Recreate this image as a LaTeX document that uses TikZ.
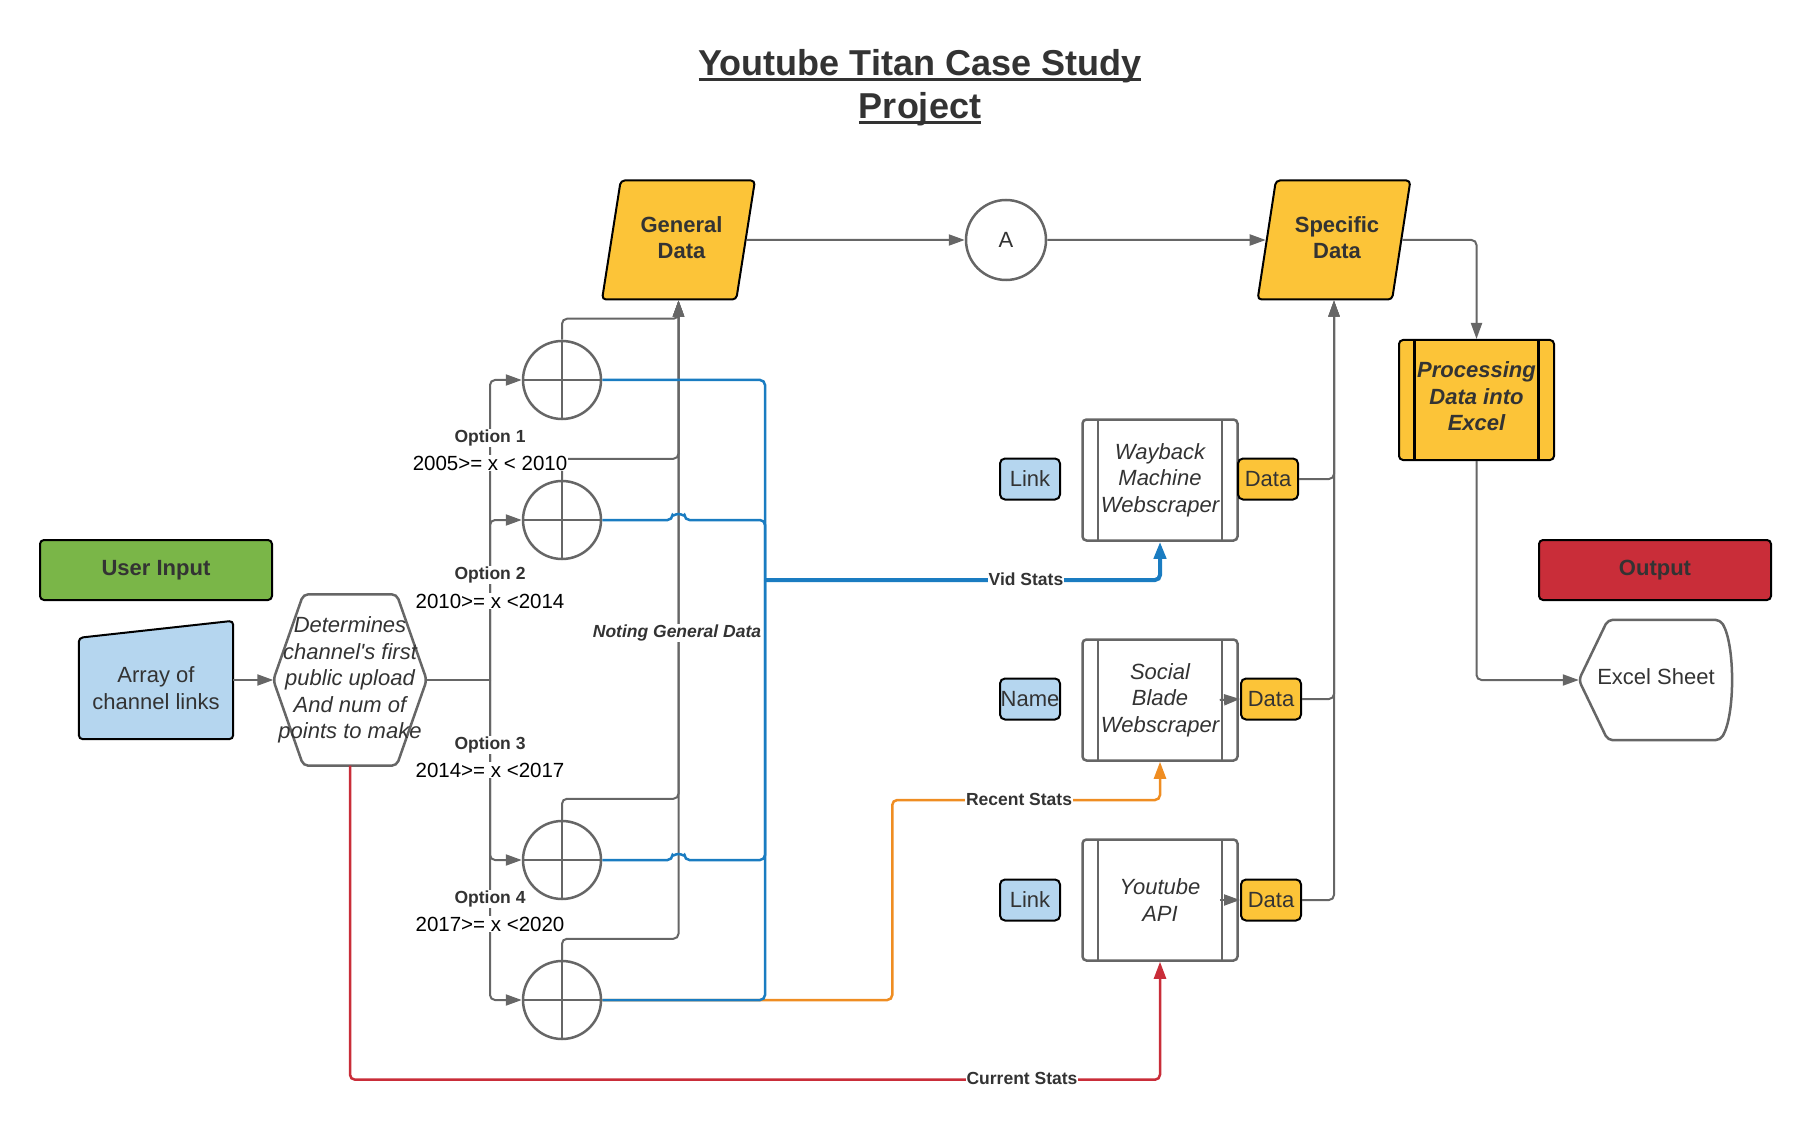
\documentclass[tikz,border=0pt]{standalone}
\usepackage{fontspec}
\setmainfont{Liberation Sans}
\usetikzlibrary{shapes.geometric,arrows.meta,positioning,calc}
\pgfdeclarelayer{background}
\pgfsetlayers{background,main}

\definecolor{linegray}{HTML}{666666}
\definecolor{darktext}{HTML}{333333}
\definecolor{inputgreen}{HTML}{7AB648}
\definecolor{outputred}{HTML}{C92D39}
\definecolor{linkblue}{HTML}{B5D6EF}
\definecolor{datayellow}{HTML}{FCC438}
\definecolor{statsblue}{HTML}{1A7CC1}
\definecolor{statsorange}{HTML}{EF8D22}

\newcommand{\ttlul}[1]{\setbox0=\hbox{#1}\rlap{\rule[-5pt]{\wd0}{3pt}}\box0}
\newcommand{\stacktext}[2]{\raisebox{#1}[0pt][0pt]{\begin{tabular}{@{}c@{}}#2\end{tabular}}}
\newcommand{\paratext}[1]{\hspace*{6pt}\raisebox{5pt}{\begin{tabular}{@{}c@{}}#1\end{tabular}}}

\begin{document}
\begin{tikzpicture}[x=1pt, y=-1pt,
    keybox/.style={rectangle, rounded corners=4pt, draw=black, line width=2pt, minimum width=232pt, minimum height=60pt, text=darktext, font=\bfseries\fontsize{22}{26.5}\selectfont},
    tagbox/.style={rectangle, rounded corners=5pt, draw=black, line width=2pt, minimum width=60pt, minimum height=41pt, inner sep=0pt, text=darktext, font=\fontsize{22}{26.5}\selectfont},
    procbox/.style={rectangle, rounded corners=4pt, draw=#1, line width=2.5pt, fill=white, minimum width=155pt, minimum height=121pt, inner sep=0pt, align=center, text=darktext, font=\itshape\fontsize{22}{26.5}\selectfont,
        path picture={
            \draw[#1, line width=2.5pt] ([xshift=15.5pt]path picture bounding box.north west) -- ([xshift=15.5pt]path picture bounding box.south west)
                ([xshift=-15.5pt]path picture bounding box.north east) -- ([xshift=-15.5pt]path picture bounding box.south east);
        }},
    procbox/.default=linegray,
    sumcircle/.style={circle, draw=linegray, line width=2.5pt, minimum size=78pt, inner sep=0pt,
        path picture={
            \draw[linegray, line width=2.5pt] (path picture bounding box.north) -- (path picture bounding box.south)
                (path picture bounding box.west) -- (path picture bounding box.east);
        }},
    datapara/.style={trapezium, trapezium left angle=75, trapezium right angle=105, trapezium stretches=true, rounded corners=4pt, draw=black, line width=2pt, fill=datayellow, minimum width=153pt, minimum height=119pt, inner sep=0pt, align=center, text=darktext, font=\bfseries\fontsize{22}{26.5}\selectfont},
    freeshape/.style={rectangle, inner sep=0pt, align=center, text=darktext, font=\fontsize{22}{26.5}\selectfont},
    shapeline/.style={line width=2.5pt, draw=linegray, fill=white, rounded corners=5pt},
    optname/.style={fill=white, inner sep=1pt, text=darktext, font=\bfseries\fontsize{17.5}{21}\selectfont},
    optval/.style={fill=white, inner sep=1pt, text=black, font=\fontsize{20.5}{24}\selectfont},
    linelbl/.style={fill=white, inner sep=1pt, text=darktext, font=\bfseries\fontsize{17.5}{21}\selectfont},
    wire/.style={draw=linegray, line width=2pt, rounded corners=5pt},
    arrow/.style={wire, -{Triangle[length=16pt,width=11pt]}},
    blueline/.style={draw=statsblue, line width=2.5pt, rounded corners=5pt},
    colarrow/.style={draw=#1, line width=2.5pt, rounded corners=5pt, -{Triangle[length=17pt,width=12pt]}}
]
    \useasboundingbox (0,0) rectangle (1812,1131);

    % Title
    \node[align=center, text=darktext, font=\bfseries\fontsize{36}{43}\selectfont] (ttl) at (920,88)
        {\ttlul{Youtube Titan Case Study}\\\ttlul{Project}};

    % Key boxes
    \node[keybox, fill=inputgreen] (uin) at (156,570) {User Input};
    \node[keybox, fill=outputred] (outp) at (1655,570) {Output};

    % Input and decision
    \node[freeshape, minimum width=154pt, minimum height=118pt] (arr) at (156,680) {\stacktext{-15.8pt}{Array of\\channel links}};
    \node[freeshape, minimum width=153pt, minimum height=171pt, font=\itshape\fontsize{22}{26.5}\selectfont] (det) at (350,680)
        {Determines\\channel\textquotesingle s first\\public upload\\And num of\\points to make};
    \begin{pgfonlayer}{background}
        \draw[line width=2pt, draw=black, fill=linkblue, rounded corners=4pt] (arr.south west) -- ([yshift=-17pt]arr.north west)
            -- (arr.north east) -- (arr.south east) -- cycle;
        \draw[shapeline] (det.west) -- ([xshift=30pt]det.north west) -- ([xshift=-30pt]det.north east) -- (det.east)
            -- ([xshift=-30pt]det.south east) -- ([xshift=30pt]det.south west) -- cycle;
    \end{pgfonlayer}
    \draw[arrow] (arr.east) -- (det.west);

    % Options
    \node[sumcircle] (c1) at (562,380) {};
    \node[sumcircle] (c2) at (562,520) {};
    \node[sumcircle] (c3) at (562,860) {};
    \node[sumcircle] (c4) at (562,1000) {};
    \coordinate (bus) at (490,680);
    \draw[wire] (det.east) -- (bus);
    \foreach \c in {c1,c2,c3,c4}
        \draw[arrow] (bus) |- (\c.west);

    % General data, A and specific data
    \node[datapara] (gd) at (678.5,240) {\paratext{General\\Data}};
    \node[circle, draw=linegray, line width=2.5pt, minimum size=80pt, inner sep=0pt, text=darktext, font=\fontsize{22}{26.5}\selectfont] (ca) at (1006,240) {A};
    \node[datapara] (sp) at (1334,240) {\paratext{Specific\\Data}};
    \draw[arrow] (gd.east) -- (ca.west);
    \draw[arrow] (ca.east) -- (sp.west);
    \foreach \c in {c1,c2,c3,c4}
        \draw[arrow] (\c.north) -- ++(0,-21) -| (gd.south);

    % Scrapers
    \node[procbox] (wb) at (1160,480) {Wayback\\Machine\\Webscraper};
    \node[procbox] (sb) at (1160,700) {Social\\Blade\\Webscraper};
    \node[procbox] (yt) at (1160,900) {Youtube\\API};
    \node[tagbox, fill=linkblue] (lk1) at (1030,479) {Link};
    \node[tagbox, fill=linkblue] (nm) at (1030,699) {Name};
    \node[tagbox, fill=linkblue] (lk2) at (1030,900) {Link};
    \node[tagbox, fill=datayellow] (d1) at (1268,479) {Data};
    \node[tagbox, fill=datayellow] (d2) at (1271,699) {Data};
    \node[tagbox, fill=datayellow] (d3) at (1271,900) {Data};
    \draw[arrow] ([xshift=-19pt]sb.east) -- (d2.west);
    \draw[arrow] ([xshift=-19pt]yt.east) -- (d3.west);
    \foreach \d in {d1,d2,d3}
        \draw[arrow] (\d.east) -| (sp.south);

    % Stats lines
    \draw[colarrow=outputred] (det.south) -- ++(0,314) -| (yt.south);
    \draw[colarrow=statsorange] (c4.east) -- ++(290,0) -- ++(0,-200) -| (sb.south);
    \coordinate (bj) at (765,580);
    \draw[blueline] (c1.east) -| (bj);
    \draw[blueline] (c2.east) -- ($(c2.east -| gd.south)+(-6,0)$) arc[start angle=180, end angle=0, radius=6pt] -| (bj);
    \draw[blueline] (c3.east) -- ($(c3.east -| gd.south)+(-6,0)$) arc[start angle=180, end angle=0, radius=6pt] -| (bj);
    \draw[blueline] (c4.east) -| (bj);
    \draw[colarrow=statsblue, line width=4pt] (bj) -| (wb.south);

    % Output
    \node[procbox=black, line width=2pt, fill=datayellow, font=\bfseries\itshape\fontsize{22}{26.5}\selectfont, minimum height=120pt] (pr) at (1476.5,400) {\stacktext{-4.2pt}{Processing\\Data into\\Excel}};
    \node[freeshape, minimum width=154pt, minimum height=120pt] (xl) at (1656,680) {\raisebox{-4pt}[0pt][0pt]{Excel Sheet}};
    \begin{pgfonlayer}{background}
        \draw[shapeline] (xl.west) -- ([xshift=29pt]xl.north west) -- ([xshift=-13pt]xl.north east)
            .. controls ([xshift=2pt,yshift=-25pt]xl.north east) and ([xshift=2pt,yshift=25pt]xl.south east) .. ([xshift=-13pt]xl.south east)
            -- ([xshift=29pt]xl.south west) -- cycle;
    \end{pgfonlayer}
    \draw[arrow] (sp.east) -| (pr.north);
    \draw[arrow] (pr.south) |- (xl.west);

    % Labels on lines
    \node[optname] (o1) at (490,438) {Option 1};
    \node[optval] (v1) at (490,463) {2005>= x < 2010};
    \node[optname] (o2) at (490,575) {Option 2};
    \node[optval] (v2) at (490,601) {2010>= x <2014};
    \node[optname] (o3) at (490,745) {Option 3};
    \node[optval] (v3) at (490,770) {2014>= x <2017};
    \node[optname] (o4) at (490,899) {Option 4};
    \node[optval] (v4) at (490,924) {2017>= x <2020};
    \node[linelbl, font=\bfseries\itshape\fontsize{17.5}{21}\selectfont] (ngd) at (677,633) {Noting General Data};
    \node[linelbl] (vs) at (1026,579) {Vid Stats};
    \node[linelbl] (rs) at (1019,799) {Recent Stats};
    \node[linelbl] (cs) at (1022,1078) {Current Stats};
\end{tikzpicture}
\end{document}
